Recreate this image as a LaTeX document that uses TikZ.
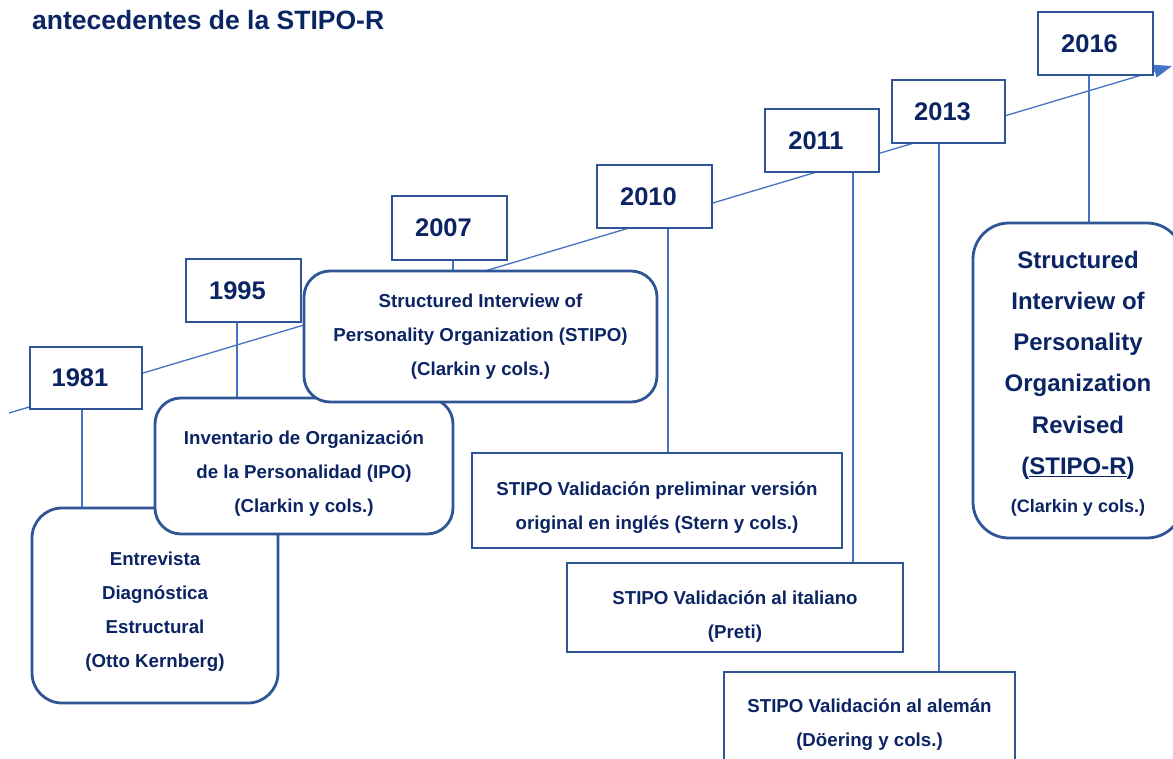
\documentclass[tikz,border=0pt]{standalone}
\usepackage{fontspec}
\setmainfont{Liberation Sans}
\usetikzlibrary{arrows.meta}
\definecolor{boxblue}{HTML}{2F5597}
\definecolor{lineblue}{HTML}{4472C4}
\definecolor{navy}{HTML}{0B2463}
\tikzset{
  yearbox/.style={draw=boxblue, line width=2.8pt, fill=white, text=navy,
    font=\fontsize{25.5}{30}\selectfont\bfseries, inner sep=0pt},
  evbox/.style={draw=boxblue, line width=2.8pt, fill=white, inner sep=0pt},
  roundbox/.style={evbox, rounded corners=#1},
  roundbox/.default=26pt,
  boxtext/.style={text=navy, align=center, inner sep=0pt,
    font=\fontsize{18.7}{34}\selectfont\bfseries},
  bigtext/.style={boxtext, font=\fontsize{24}{41.2}\selectfont\bfseries},
  conn/.style={draw=lineblue, line width=1.3pt},
}
\begin{document}
\begin{tikzpicture}[x=1pt,y=-1pt]
\useasboundingbox (0,0) rectangle (1173,758);
\begin{scope}
\clip (0,0) rectangle (1173,758);

% heading
\node[anchor=base west, text=navy, inner sep=0pt,
      font=\fontsize{26.5}{30}\selectfont\bfseries] (title) at (32,29) {antecedentes de la STIPO-R};

% time axis
\coordinate (axstart) at (9,413);
\coordinate (axend) at (1172,66);
\draw[conn, -{Triangle[length=18pt,width=13pt]}] (axstart) -- (axend);

% event box centres
\path (155,605.5) coordinate (pedx) (304,466) coordinate (pipo) (480.5,336.5) coordinate (pstipo)
      (657,500.5) coordinate (pprelim) (735,607.5) coordinate (pita) (869.5,722) coordinate (pale)
      (1078,380.5) coordinate (pstipor);

% year boxes
\node[yearbox, minimum width=112pt, minimum height=62pt] (y1981) at (86,378) {1981\kern12pt};
\node[yearbox, minimum width=115pt, minimum height=63pt] (y1995) at (243.5,290.5) {1995\kern12pt};
\node[yearbox, minimum width=115pt, minimum height=64pt] (y2007) at (449.5,228) {2007\kern12pt};
\node[yearbox, minimum width=115pt, minimum height=63pt] (y2010) at (654.5,196.5) {2010\kern12pt};
\node[yearbox, minimum width=114pt, minimum height=63pt] (y2011) at (822,140.5) {2011\kern12pt};
\node[yearbox, minimum width=113pt, minimum height=63pt] (y2013) at (948.5,111.5) {2013\kern12pt};
\node[yearbox, minimum width=115pt, minimum height=63pt] (y2016) at (1095.5,43.5) {2016\kern12pt};

% event boxes, geometry only (filled later so that connectors sit behind them)
\path[evbox, draw=none, fill=none]
  node[minimum width=246pt, minimum height=195pt] (edx) at (pedx) {}
  node[minimum width=298pt, minimum height=136pt] (ipo) at (pipo) {}
  node[minimum width=353pt, minimum height=131pt] (stipo) at (pstipo) {}
  node[minimum width=370pt, minimum height=95pt] (prelim) at (pprelim) {}
  node[minimum width=336pt, minimum height=89pt] (ita) at (pita) {}
  node[minimum width=291pt, minimum height=100pt] (ale) at (pale) {}
  node[minimum width=210pt, minimum height=315pt] (stipor) at (pstipor) {};

% connectors from each year to its event
\draw[conn] (y1981.south -| 82,0) -- (edx.north -| 82,0);
\draw[conn] (y1995.south -| 237,0) -- (ipo.north -| 237,0);
\draw[conn] (y2007.south -| 453,0) -- (stipo.north -| 453,0);
\draw[conn] (y2010.south -| 668,0) -- (prelim.north -| 668,0);
\draw[conn] (y2011.south -| 853,0) -- (ita.north -| 853,0);
\draw[conn] (y2013.south -| 939,0) -- (ale.north -| 939,0);
\draw[conn] (y2016.south -| 1089,0) -- (stipor.north -| 1089,0);

% event boxes with their texts
\node[roundbox=30pt, minimum width=246pt, minimum height=195pt,
      label={[boxtext, yshift=-6pt]center:{Entrevista\\Diagnóstica\\Estructural\\(Otto Kernberg)}}]
  at (pedx) {};
\node[roundbox=26pt, minimum width=298pt, minimum height=136pt,
      label={[boxtext, yshift=-8pt]center:{Inventario de Organización\\de la Personalidad (IPO)\\(Clarkin y cols.)}}]
  at (pipo) {};
\node[roundbox=26pt, minimum width=353pt, minimum height=131pt,
      label={[boxtext]center:{Structured Interview of\\Personality Organization (STIPO)\\(Clarkin y cols.)}}]
  at (pstipo) {};
\node[evbox, minimum width=370pt, minimum height=95pt,
      label={[boxtext, yshift=-7pt]center:{STIPO Validación preliminar versión\\original en inglés (Stern y cols.)}}]
  at (pprelim) {};
\node[evbox, minimum width=336pt, minimum height=89pt,
      label={[boxtext, yshift=-9pt]center:{STIPO Validación al italiano\\(Preti)}}]
  at (pita) {};
\node[evbox, minimum width=291pt, minimum height=100pt,
      label={[boxtext, yshift=-2.5pt]center:{STIPO Validación al alemán\\(Döering y cols.)}}]
  at (pale) {};
\node[roundbox=36pt, minimum width=210pt, minimum height=315pt,
      label={[bigtext, yshift=-3pt]center:{Structured\\Interview of\\Personality\\Organization\\Revised\\(\underline{STIPO-R})\\[-3pt]
        {\fontsize{18}{20}\selectfont (Clarkin y cols.)}}}]
  at (pstipor) {};
\end{scope}
\end{tikzpicture}
\end{document}
